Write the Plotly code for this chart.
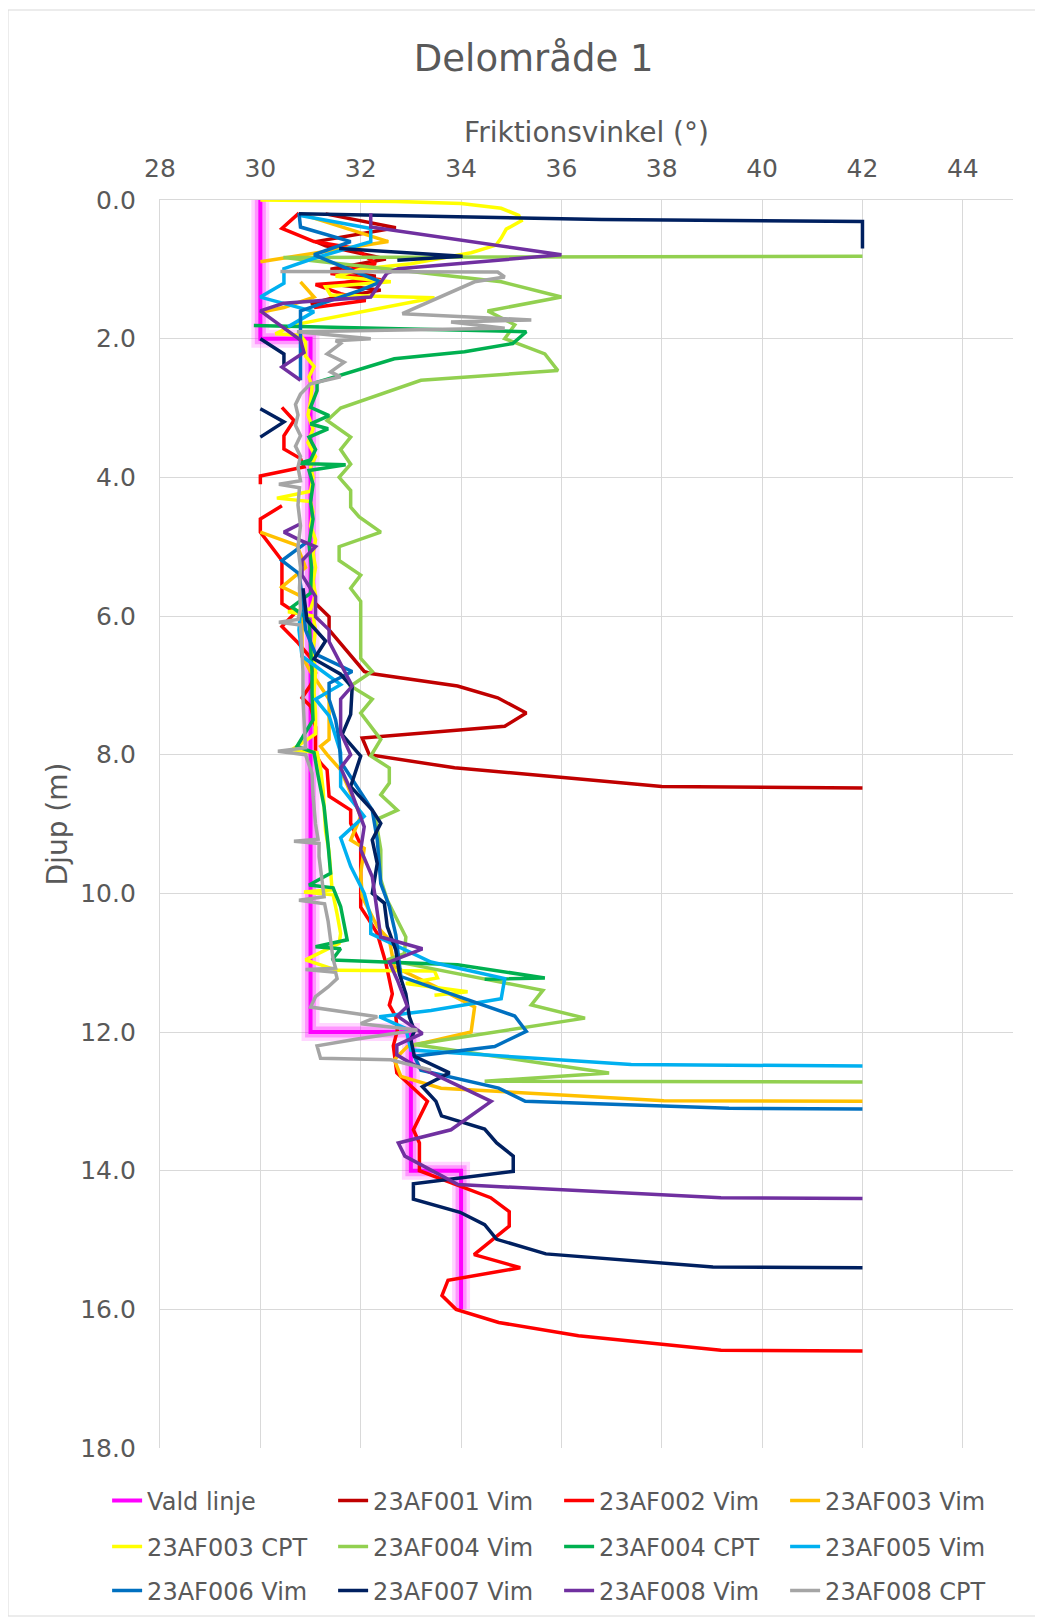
import plotly.graph_objects as go

# ---------------- data (friction angle in degrees, depth in m) ----------------
vald_x = [30, 30, 31, 31, 33, 33, 34, 34]
vald_d = [0, 2, 2, 12, 12, 14, 14, 16]

af001_x = [31.3, 32.7, 31.1, 31.3, 32.5, 31.4, 32.3, 31.5, 32.4, 31.4,
           31.0, None, 31.1, 31.37, 31.37, 32.07, 32.2, 33.93, 34.73, 35.3,
           34.87, 32.03, 32.17, 33.87, 36.2, 38.0, 42.0]
af001_d = [0.20, 0.40, 0.60, 0.66, 0.85, 1.00, 1.10, 1.22, 1.30, 1.42,
           1.50, None, 5.82, 6.01, 6.20, 6.80, 6.83, 7.01, 7.18, 7.40,
           7.59, 7.76, 8.00, 8.19, 8.34, 8.46, 8.48]

af002_x = [30.77, 30.43, 31.07, 31.9, 32.3, 31.4, 32.4, 31.1, 31.6, 32.1, 31.07, None,
           30.43, 30.67, 30.47, 30.47, 30.8, 30.87, 30.0, 30.0, None,
           30.43, 30.0, 30.0, 30.43, 30.43, 30.7, 30.43, 30.73, 31.0, 31.1,
           31.0, 30.83, 31.0, 31.1, 31.1, 31.2, 31.33, 31.37, 31.8, 31.8,
           32.0, 32.0, 32.0, 32.17, 32.33, 32.5, 32.63, 32.57, 32.7, 32.73,
           32.65, 32.72, 33.33, 33.05, 33.17, 33.17, 33.98, 34.59, 34.96, 34.96,
           34.26, 35.18, 33.74, 33.62, 33.9, 34.75, 36.34, 39.18, 42]
af002_d = [0.19, 0.41, 0.60, 0.70, 0.92, 1.06, 1.15, 1.22, 1.35, 1.45, 1.55, None,
           2.99, 3.18, 3.40, 3.59, 3.73, 3.85, 3.98, 4.10, None,
           4.41, 4.60, 4.79, 5.20, 5.82, 5.95, 6.15, 6.37, 6.60, 6.82,
           7.00, 7.18, 7.30, 7.60, 8.00, 8.12, 8.22, 8.60, 8.80, 8.99,
           9.30, 9.80, 10.20, 10.39, 10.58, 11.00, 11.45, 11.61, 11.78, 11.98,
           12.20, 12.59, 13.00, 13.41, 13.60, 14.00, 14.23, 14.39, 14.59, 14.80,
           15.21, 15.40, 15.58, 15.80, 16.00, 16.19, 16.38, 16.59, 16.60]

af003v_x = [30.8, 32.55, 30.0, None, 30.8, 31.07, 30.47, 30.0, None, 30.0,
            30.73, 30.9, 30.43, 30.83, 30.83, 30.83, 31.0, 31.37, 31.37, 31.2,
            31.33, 31.6, 32.0, 31.8, 32.07, 32.0, 32.03, 32.33, 32.57, 32.67,
            33.5, 34.27, 34.2, 32.93, 32.67, 32.8, 33.6, 35.28, 38.04, 42]
af003v_d = [0.20, 0.60, 0.89, None, 1.18, 1.40, 1.55, 1.62, None, 4.79,
            4.98, 5.30, 5.58, 5.72, 6.00, 6.58, 6.80, 7.20, 7.78, 7.88,
            8.00, 8.22, 8.89, 9.23, 9.35, 9.71, 10.05, 10.48, 10.67, 11.06,
            11.35, 11.64, 12.00, 12.21, 12.40, 12.64, 12.81, 12.88, 12.99, 13.00]

af003c_x = [30.0, 32.7, 34.0, 34.8, 35.15, 35.2, 34.9, 34.8, 34.7, 34.2,
            33.0, 32.0, 31.5, 32.6, 31.3, 31.4, 33.47, 30.67, 30.3, 30.8,
            30.9, 30.9, 31.07, 30.97, 31.03, 31.0, 30.95, 31.05, 30.95, 31.1,
            31.0, 31.05, 31.0, 30.33, 31.0, 31.05, 31.0, 31.1, 31.05, 31.1,
            31.05, 31.1, 31.0, 30.55, 31.05, 31.1, 31.05, 31.1, 31.07, 31.1,
            31.1, 30.63, 31.13, 31.2, 31.25, 31.27, 31.3, 31.37, 31.4, 31.43,
            30.87, 31.45, 31.53, 31.6, 31.57, 30.9, 31.53, 33.47, 33.53, 32.9,
            34.13, 33.47]
af003c_d = [0.0, 0.02, 0.05, 0.12, 0.22, 0.30, 0.42, 0.55, 0.65, 0.76,
            0.92, 1.00, 1.10, 1.18, 1.25, 1.37, 1.41, 1.80, 1.93, 1.95,
            2.05, 2.25, 2.40, 2.55, 2.70, 2.90, 3.10, 3.30, 3.50, 3.70,
            3.85, 4.00, 4.20, 4.30, 4.35, 4.50, 4.70, 4.90, 5.10, 5.30,
            5.50, 5.70, 5.90, 5.94, 6.00, 6.20, 6.50, 6.80, 7.10, 7.40,
            7.70, 7.93, 7.97, 8.20, 8.50, 8.80, 9.10, 9.40, 9.70, 9.95,
            9.98, 10.02, 10.30, 10.58, 10.72, 10.96, 11.11, 11.12, 11.22, 11.30,
            11.42, 11.47]

af004v_x = [42, 30.46, 33.0, 34.8, 36.0, 34.53, 35.07, 34.87, 35.67, 35.93,
            33.2, 31.6, 31.33, 31.8, 31.6, 31.8, 31.57, 31.8, 31.8, 31.97,
            32.4, 31.57, 31.57, 32.0, 31.8, 32.0, 32.0, 32.23, 31.8, 32.23,
            32.0, 32.4, 32.2, 32.57, 32.57, 32.4, 32.73, 32.3, 32.4, 32.4,
            32.53, 32.9, 32.87, 32.53, 35.63, 35.4, 36.47, 33.07, 36.95, 34.47,
            42]
af004v_d = [0.81, 0.83, 1.03, 1.18, 1.40, 1.60, 1.80, 2.00, 2.22, 2.46,
            2.60, 3.00, 3.18, 3.42, 3.60, 3.81, 4.00, 4.19, 4.43, 4.57,
            4.79, 5.00, 5.20, 5.41, 5.60, 5.79, 6.61, 6.80, 7.01, 7.20,
            7.40, 7.78, 8.02, 8.19, 8.41, 8.58, 8.80, 8.94, 9.37, 9.80,
            10.10, 10.63, 10.87, 10.96, 11.40, 11.61, 11.80, 12.18, 12.59, 12.71,
            12.72]

af004c_x = [29.87, 35.3, 35.03, 34.07, 32.67, 31.87, 31.13, 31.13, 31.0, 31.37,
            31.0, 31.35, 30.97, 31.1, 31.0, 30.77, 31.7, 30.97, 31.05, 31.0,
            31.05, 30.97, 31.02, 31.0, 30.63, 30.97, 31.0, 31.03, 31.03, 31.05,
            30.73, 31.07, 31.15, 31.27, 31.35, 31.4, 30.97, 31.45, 31.6, 31.73,
            31.1, 31.6, 31.43, 33.93, 35.67, 34.47]
af004c_d = [1.81, 1.90, 2.07, 2.19, 2.29, 2.46, 2.63, 2.75, 2.99, 3.11,
            3.23, 3.30, 3.42, 3.60, 3.75, 3.80, 3.82, 3.90, 4.10, 4.36,
            4.60, 4.96, 5.30, 5.67, 5.87, 6.06, 6.40, 6.80, 7.11, 7.50,
            7.88, 7.97, 8.30, 8.75, 9.30, 9.71, 9.88, 9.92, 10.19, 10.67,
            10.77, 10.80, 10.96, 11.03, 11.22, 11.24]

af005_x = [30.77, 32.2, 32.2, 31.07, 30.47, 30.47, 30.0, 31.07, 30.55, None,
           30.8, 30.77, 30.83, 31.6, 31.1, 31.37, 31.6, 31.6, 32.07, 31.6,
           31.8, 32.07, 32.2, 32.2, 33.4, 34.87, 34.8, 33.4, 32.37, 32.9,
           33.0, 37.39, 42]
af005_d = [0.22, 0.41, 0.60, 0.84, 0.99, 1.20, 1.40, 1.61, 1.83, None,
           5.90, 6.20, 6.58, 6.99, 7.20, 7.44, 7.97, 8.46, 8.89, 9.20,
           9.61, 10.00, 10.34, 10.58, 10.99, 11.23, 11.52, 11.69, 11.78, 11.95,
           12.26, 12.47, 12.49]

af006_x = [30.77, 30.8, 31.8, 31.07, 31.6, 32.4, 32.0, 30.8, 30.8, None,
           30.9, 30.43, 30.77, 30.85, 30.9, 31.1, 31.83, 31.37, 31.37, 31.5,
           31.57, 31.6, 32.23, 32.33, 32.4, 32.57, 32.7, 32.8, 35.07, 35.3,
           34.67, 33.07, 33.2, 34.75, 35.28, 39.34, 42]
af006_d = [0.19, 0.39, 0.60, 0.79, 0.95, 1.18, 1.30, 1.60, 2.60, None,
           4.95, 5.20, 5.39, 5.80, 6.20, 6.55, 6.80, 6.97, 7.20, 7.50,
           7.78, 8.10, 8.80, 9.23, 9.86, 10.19, 10.60, 11.20, 11.77, 11.99,
           12.21, 12.35, 12.55, 12.81, 13.00, 13.10, 13.11]

af007_x = [30.77, 36.8, 42, 42, None, 31.57, 34.03, 32.73, None, 30.0,
           30.47, 30.47, None, 30.0, 30.47, 30.0, None, 30.85, 30.93,
           31.3, 31.07, 31.6, 31.83, 31.8, 31.63, 32.0, 31.8, 32.23, 32.4,
           32.23, 32.33, 32.23, 32.47, 32.53, 32.7, 32.77, 32.9, 32.97, 33.07,
           33.0, 33.07, 33.77, 33.23, 33.5, 33.61, 34.47, 34.71, 35.04, 35.04,
           33.05, 33.05, 33.98, 34.47, 34.71, 35.69, 39.02, 42]
af007_d = [0.20, 0.28, 0.31, 0.70, None, 0.70, 0.81, 0.87, None, 2.00,
           2.22, 2.38, None, 3.01, 3.20, 3.42, None, 5.60, 6.06,
           6.36, 6.62, 6.84, 7.03, 7.42, 7.71, 8.02, 8.46, 8.80, 8.99,
           9.23, 9.57, 10.00, 10.14, 10.48, 10.82, 11.16, 11.45, 11.78, 11.98,
           12.11, 12.35, 12.59, 12.79, 13.00, 13.21, 13.40, 13.60, 13.79, 14.01,
           14.19, 14.41, 14.60, 14.78, 14.99, 15.20, 15.39, 15.40]

af008v_x = [32.2, 32.2, 36.0, 32.75, 32.52, 32.2, 30.46, 30.0, 30.8, 30.87,
            30.43, 30.8, None, 30.8, 30.47, 30.8, 31.1, 30.83, 30.83, 31.1,
            31.1, 31.37, 31.37, 31.83, 31.6, 31.6, 31.8, 31.6, 31.8, 32.07,
            32.0, 32.23, 32.27, 32.4, 33.23, 32.57, 32.73, 32.93, 32.73, 33.23,
            32.72, 32.72, 33.0, 34.6, 33.8, 32.75, 32.88, 33.94, 39.18, 42]
af008v_d = [0.19, 0.39, 0.79, 0.99, 1.06, 1.40, 1.49, 1.60, 2.02, 2.20,
            2.41, 2.60, None, 4.67, 4.79, 4.91, 5.00, 5.20, 5.41, 5.72,
            6.01, 6.20, 6.37, 7.01, 7.20, 7.68, 8.00, 8.19, 8.51, 9.04,
            9.37, 9.76, 9.95, 10.63, 10.80, 10.99, 11.25, 11.63, 11.77, 12.02,
            12.19, 12.33, 12.45, 13.00, 13.41, 13.60, 13.79, 14.20, 14.39, 14.40]

af008c_x = [30.4, 34.73, 34.87, 34.27, 32.83, 35.4, 33.8, 34.87, 30.73, 32.2,
            31.5, 31.6, 31.33, 31.67, 31.4, 31.6, 31.0, 30.8, 30.7, 30.75,
            30.7, 30.8, 30.7, 30.8, 30.75, 30.8, 30.37, 30.78, 30.75, 30.8,
            30.75, 30.8, 30.78, 30.8, 30.75, 30.37, 30.8, 30.82, 30.85, 30.85,
            30.88, 30.9, 30.35, 30.9, 31.03, 31.05, 31.1, 31.15, 30.67, 31.17,
            31.17, 31.22, 31.27, 30.77, 31.28, 31.35, 31.4, 31.45, 31.5, 30.9,
            31.5, 31.53, 31.35, 31.1, 31.0, 32.33, 32.0, 33.13, 31.93, 31.13,
            31.2, 32.6, 33.4]
af008c_d = [1.03, 1.04, 1.11, 1.18, 1.64, 1.73, 1.76, 1.85, 1.90, 2.00,
            2.03, 2.07, 2.22, 2.34, 2.48, 2.55, 2.65, 2.80, 2.95, 3.10,
            3.25, 3.40, 3.55, 3.70, 3.85, 4.05, 4.10, 4.15, 4.40, 4.70,
            5.00, 5.30, 5.60, 5.90, 6.05, 6.09, 6.13, 6.40, 6.80, 7.20,
            7.60, 7.90, 7.95, 8.00, 8.27, 8.60, 9.00, 9.22, 9.25, 9.28,
            9.47, 9.80, 10.05, 10.10, 10.15, 10.40, 10.67, 10.95, 11.08, 11.10,
            11.14, 11.23, 11.35, 11.49, 11.64, 11.78, 11.88, 11.97, 12.10, 12.20,
            12.38, 12.40, 12.55]

x_ticks = [28, 30, 32, 34, 36, 38, 40, 42, 44]
y_ticks = [0, 2, 4, 6, 8, 10, 12, 14, 16, 18]

# ---------------- figure ----------------
FONT = "DejaVu Sans"
TXT = "#595959"
GRID = "#D9D9D9"

series = [
    ("23AF001 Vim", af001_x, af001_d, "#C00000", "legend"),
    ("23AF002 Vim", af002_x, af002_d, "#FF0000", "legend"),
    ("23AF003 Vim", af003v_x, af003v_d, "#FFC000", "legend"),
    ("23AF003 CPT", af003c_x, af003c_d, "#FFFF00", "legend2"),
    ("23AF004 Vim", af004v_x, af004v_d, "#92D050", "legend2"),
    ("23AF004 CPT", af004c_x, af004c_d, "#00B050", "legend2"),
    ("23AF005 Vim", af005_x, af005_d, "#00B0F0", "legend2"),
    ("23AF006 Vim", af006_x, af006_d, "#0070C0", "legend3"),
    ("23AF007 Vim", af007_x, af007_d, "#002060", "legend3"),
    ("23AF008 Vim", af008v_x, af008v_d, "#7030A0", "legend3"),
    ("23AF008 CPT", af008c_x, af008c_d, "#A5A5A5", "legend3"),
]

fig = go.Figure()

# glow under the chosen line
for w, a in [(18, 0.16), (11, 0.3)]:
    fig.add_trace(go.Scatter(x=vald_x, y=vald_d, mode="lines", showlegend=False,
                             hoverinfo="skip",
                             line=dict(color=f"rgba(255,0,255,{a})", width=w)))
fig.add_trace(go.Scatter(x=vald_x, y=vald_d, mode="lines", name="Vald linje",
                         legend="legend",
                         line=dict(color="#FF00FF", width=4)))

for name, xs, ds, col, lg in series:
    fig.add_trace(go.Scatter(x=xs, y=ds, mode="lines", name=name, legend=lg,
                             connectgaps=False,
                             line=dict(color=col, width=3.5)))

# plot area (figure coords): left 152, right 1005, top 192, bottom 1440
PH = 1248
leg_common = dict(orientation="h", xanchor="left", yanchor="middle",
                  x=-0.062, entrywidth=181, entrywidthmode="pixels",
                  font=dict(family=FONT, size=24, color=TXT),
                  bgcolor="rgba(0,0,0,0)", traceorder="normal")

fig.update_layout(
    width=1043, height=1617,
    margin=dict(l=152, r=38, t=192, b=177, autoexpand=False),
    paper_bgcolor="white", plot_bgcolor="white",
    font=dict(family=FONT, color=TXT, size=24),
    title=dict(text="Delområde 1", x=0.504, xref="container", xanchor="center",
               y=1 - 50 / 1617, yref="container", yanchor="middle",
               font=dict(family=FONT, size=37, color=TXT)),
    xaxis=dict(side="top", range=[28, 45], tickvals=x_ticks,
               showgrid=True, gridcolor=GRID, gridwidth=1.3,
               showline=True, linecolor=GRID, linewidth=1.3,
               zeroline=False, ticks="", ticklabelstandoff=12,
               automargin=False,
               tickfont=dict(family=FONT, size=25, color=TXT),
               title=dict(text="Friktionsvinkel (°)", standoff=3,
                          font=dict(family=FONT, size=28, color=TXT))),
    yaxis=dict(range=[18, 0], tickvals=y_ticks, tickformat=".1f",
               showgrid=True, gridcolor=GRID, gridwidth=1.3,
               showline=True, linecolor=GRID, linewidth=1.3,
               zeroline=False, ticks="", ticklabelstandoff=18,
               automargin=False,
               tickfont=dict(family=FONT, size=25, color=TXT),
               title=dict(text="Djup (m)", standoff=4,
                          font=dict(family=FONT, size=28, color=TXT))),
    legend=dict(leg_common, y=-53 / PH),
    legend2=dict(leg_common, y=-99 / PH),
    legend3=dict(leg_common, y=-143 / PH),
    shapes=[dict(type="rect", xref="paper", yref="paper",
                 x0=(8 - 160) / 853, x1=(1042 - 160) / 853,
                 y0=(1448 - 1616) / PH, y1=(1448 - 10) / PH,
                 line=dict(color=GRID, width=1), layer="below")],
)

fig.write_html("out.html")
